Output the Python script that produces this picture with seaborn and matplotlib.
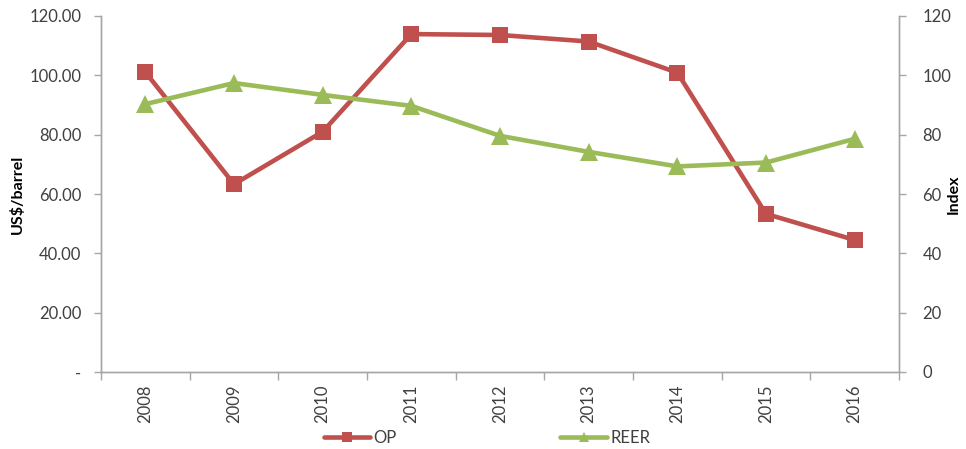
import matplotlib
matplotlib.use("Agg")
import matplotlib.pyplot as plt
import matplotlib.ticker as mticker
import seaborn as sns
import pandas as pd

years = ["2008", "2009", "2010", "2011", "2012", "2013", "2014", "2015", "2016"]
op = [101.1, 63.3, 81.0, 113.9, 113.6, 111.4, 100.9, 53.3, 44.5]
reer = [90.3, 97.4, 93.4, 89.7, 79.6, 74.2, 69.3, 70.6, 78.6]
left_ticks = [0, 20, 40, 60, 80, 100, 120]
right_ticks = [0, 20, 40, 60, 80, 100, 120]

sns.set_theme(style="white")
plt.rcParams['font.family'] = ['Lato', 'DejaVu Sans']

red = "#C0504D"
green = "#9BBB59"
gray = "#A6A6A6"
txt = "#404040"

df = pd.DataFrame({"pos": list(range(len(years))), "year": years, "OP": op, "REER": reer})

fig = plt.figure(figsize=(9.66, 4.49), dpi=100)
ax = fig.add_axes([101/966, 1-372/449, (899-101)/966, (372-16)/449])
ax2 = ax.twinx()

sns.lineplot(data=df, x="pos", y="OP", ax=ax, color=red, linewidth=3.3,
             marker="s", markersize=11.5, markeredgewidth=0, label="OP", legend=False)
sns.lineplot(data=df, x="pos", y="REER", ax=ax2, color=green, linewidth=3.3,
             marker="^", markersize=13, markeredgewidth=0, label="REER", legend=False)

n = len(years)
ax.set_xlim(-0.5, n - 0.5)
ax.set_ylim(0, 120)
ax2.set_ylim(0, 120)

ax.set_xticks(df["pos"])
ax.set_xticklabels(years, rotation=90, fontsize=12, color=txt)
ax.set_xticks([i - 0.5 for i in range(n + 1)], minor=True)
ax.tick_params(axis="x", which="major", length=0, pad=9)
ax.tick_params(axis="x", which="minor", length=6, width=1, color=gray, direction="out", bottom=True)

ax.set_yticks(left_ticks)
ax.yaxis.set_major_formatter(mticker.FuncFormatter(lambda v, p: "-" if v == 0 else f"{v:.2f}"))
ax.tick_params(axis="y", length=5, width=1, color=gray, direction="out", left=True,
               labelsize=12, labelcolor=txt, pad=9)
ax2.set_yticks(right_ticks)
ax2.yaxis.set_major_formatter(mticker.FuncFormatter(lambda v, p: f"{int(v)}"))
ax2.tick_params(axis="y", length=5, width=1, color=gray, direction="out", right=True,
                labelsize=12, labelcolor=txt, pad=12)

for a in (ax, ax2):
    a.spines["top"].set_visible(False)
    for s in ("left", "right", "bottom"):
        a.spines[s].set_color(gray)
        a.spines[s].set_linewidth(1)
    a.grid(False)

ax.set_xlabel("")
ax.set_ylabel("US$/barrel", fontsize=11.5, fontweight="bold", color="black")
ax.yaxis.set_label_coords((25 - 101) / 798, 0.5)
ax2.set_ylabel("Index", fontsize=11.5, fontweight="bold", color="black", rotation=90)
ax2.yaxis.set_label_coords((947 - 101) / 798, 0.5)

h1, l1 = ax.get_legend_handles_labels()
h2, l2 = ax2.get_legend_handles_labels()
fig.legend(h1 + h2, l1 + l2, loc="center", bbox_to_anchor=(487/966, 1-438/449), ncol=2,
           frameon=False, fontsize=12, handlelength=2.8, handletextpad=0.2,
           columnspacing=9.8, markerscale=0.6, labelcolor=txt)

fig.savefig("out.png", dpi=100)
